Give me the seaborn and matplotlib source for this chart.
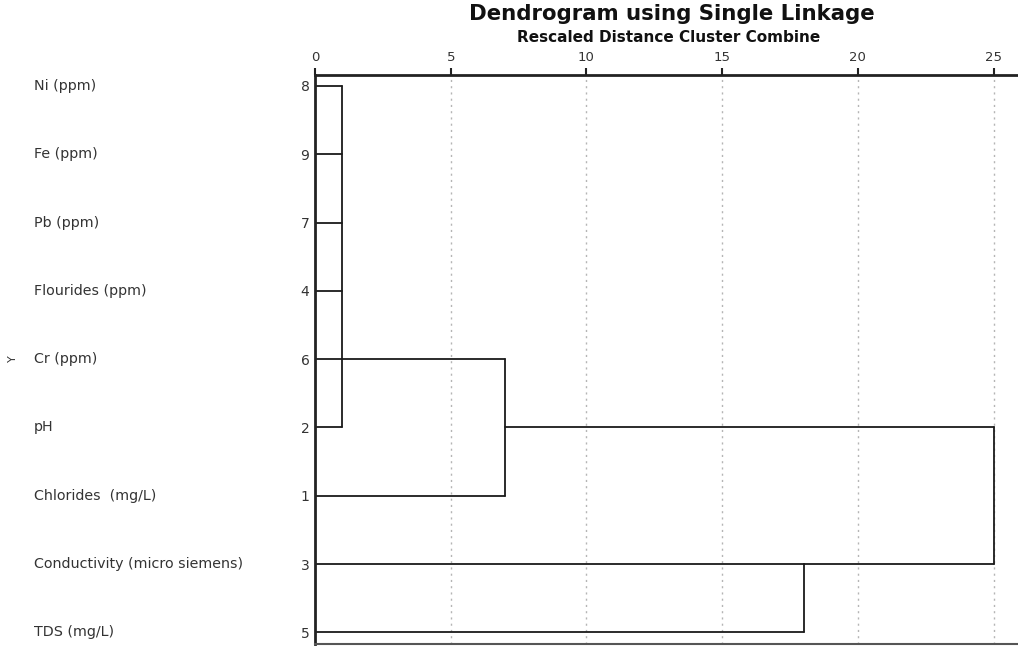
import pandas as pd
import matplotlib
matplotlib.use('Agg')
import matplotlib.pyplot as plt
import matplotlib.transforms as mtransforms
import seaborn as sns

# Row order of the dendrogram, top to bottom
var_labels = ['Ni (ppm)', 'Fe (ppm)', 'Pb (ppm)', 'Flourides (ppm)', 'Cr (ppm)', 'pH',
              'Chlorides  (mg/L)', 'Conductivity (micro siemens)', 'TDS (mg/L)']
case_ids = [8, 9, 7, 4, 6, 2, 1, 3, 5]

# Merge steps (rescaled distance), rows that join, and row the new cluster continues on
join_height = [1, 7, 18, 25]
join_inputs = [[0, 1, 2, 3, 4, 5], [4, 6], [7, 8], [5, 7]]
join_out = [4, 5, 7, 5]

x_ticks = [0, 5, 10, 15, 20, 25]

sns.set_style('white')
plt.rcParams['font.family'] = ['DejaVu Sans']

# Build line segments from the merge table
segs = []
start = {r: 0 for r in range(len(var_labels))}
sid = 0
for h, rows, out in zip(join_height, join_inputs, join_out):
    for r in rows:
        segs.append({'seg': sid, 'x': start[r], 'y': r})
        segs.append({'seg': sid, 'x': h, 'y': r})
        sid += 1
    segs.append({'seg': sid, 'x': h, 'y': min(rows)})
    segs.append({'seg': sid, 'x': h, 'y': max(rows)})
    sid += 1
    start[out] = h
seg_df = pd.DataFrame(segs)

fig = plt.figure(figsize=(10.18, 6.46), dpi=100)
ax = fig.add_axes([315 / 1018, 2 / 646, 1 - 315 / 1018, (644 - 75) / 646])

for t in x_ticks[1:]:
    ax.axvline(t, color='#b5b5b5', lw=1, linestyle=(0, (1.5, 3)), zorder=0)

sns.lineplot(data=seg_df, x='x', y='y', units='seg', estimator=None, sort=False,
             color='#1a1a1a', lw=1.3, ax=ax, legend=False)

ax.set_xlim(0, 25.9)
ax.set_ylim(8.17, -0.16)
ax.xaxis.tick_top()
ax.set_xticks(x_ticks)
ax.set_xticklabels([str(t) for t in x_ticks], fontsize=9.5, color='#333333')
ax.tick_params(axis='x', direction='out', length=5, width=1.5, pad=3, color='#222222')
ax.set_yticks(range(len(case_ids)))
ax.set_yticklabels([str(c) for c in case_ids], fontsize=10, color='#333333')
ax.tick_params(axis='y', length=0, pad=4)
ax.set_xlabel('')
ax.set_ylabel('')

for side in ['top', 'left']:
    ax.spines[side].set_linewidth(2)
    ax.spines[side].set_color('#222222')
ax.spines['bottom'].set_linewidth(1.5)
ax.spines['bottom'].set_color('#555555')
ax.spines['right'].set_visible(False)

# Variable names on the left
label_trans = mtransforms.blended_transform_factory(fig.transFigure, ax.transData)
for i, lab in enumerate(var_labels):
    ax.text(34 / 1018, i, lab, transform=label_trans,
            ha='left', va='center', fontsize=10.3, color='#333333')

fig.text(13 / 1018, 1 - 359 / 646, 'Y', rotation=90, ha='center', va='center', fontsize=8, color='#333333')

fig.text(672 / 1018, 1 - 14 / 646, 'Dendrogram using Single Linkage', ha='center', va='center',
         fontsize=15.3, fontweight='bold', color='#111111')
fig.text(669 / 1018, 1 - 38 / 646, 'Rescaled Distance Cluster Combine', ha='center', va='center',
         fontsize=11, fontweight='bold', color='#111111')

fig.savefig('out.png', dpi=100)
